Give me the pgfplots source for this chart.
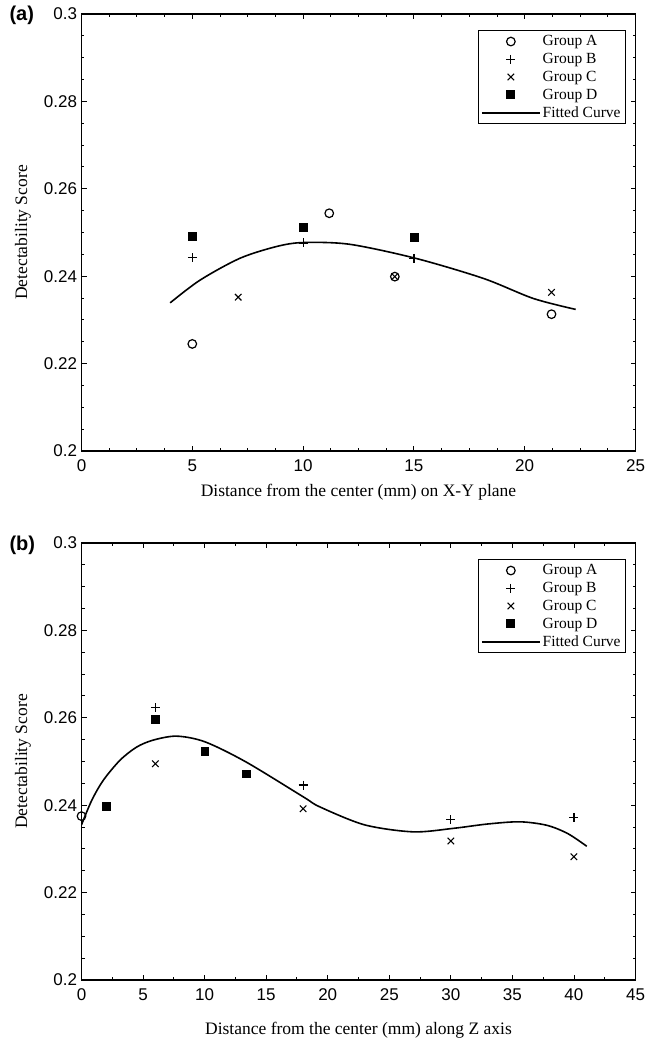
\documentclass[border=0pt]{standalone}
\usepackage{fontspec}
\setmainfont{Liberation Serif}
\newfontfamily\arial{Liberation Sans}
\usepackage{pgfplots}
\pgfplotsset{compat=1.18}

\pgfplotsset{
  panel/.style={
    scale only axis, width=554pt, height=437pt,
    xmin=0, ymin=0.2, ymax=0.3,
    ytick={0.2,0.22,0.24,0.26,0.28,0.3},
    yticklabels={0.2,0.22,0.24,0.26,0.28,0.3},
    minor y tick num=3,
    tick align=inside,
    major tick length=5pt, minor tick length=3pt,
    every tick/.style={black, line width=0.9pt},
    axis line style={line width=1.1pt},
    tick label style={font=\arial\fontsize{17}{19}\selectfont},
    xticklabel style={yshift=-5pt},
    yticklabel style={xshift=-1pt},
    /pgf/number format/assume math mode=true,
    label style={font=\fontsize{17.5}{20}\selectfont},
    xlabel style={yshift=-6pt},
    ylabel style={yshift=6pt},
    ylabel={Detectability Score},
    legend cell align=left,
    legend image code/.code={
      \draw[mark repeat=2, mark phase=2, #1]
        plot coordinates {(0pt,0pt) (29pt,0pt) (58pt,0pt)};},
    legend style={at={(0.983,0.963)}, anchor=north east,
      draw=black, line width=1pt, fill=white,
      font=\fontsize{15.5}{17}\selectfont,
      inner sep=3pt, row sep=2pt,
      /tikz/every even column/.append style={column sep=1pt}},
  },
  grpA/.style={only marks, mark=o, mark size=4.3pt, line width=1.2pt, black},
  grpB/.style={only marks, mark=+, mark size=4.5pt, line width=1.2pt, black},
  grpC/.style={only marks, mark=x, mark size=4.6pt, line width=1.1pt, black},
  grpD/.style={only marks, mark=square*, mark size=3.9pt, black},
  fitc/.style={black, line width=1.6pt, smooth, no marks},
}

\begin{document}
\begin{tikzpicture}
\path[use as bounding box] (0pt,0pt) rectangle (648pt,1038pt);

% (a) X-Y plane
\begin{axis}[panel, at={(81.5pt,587pt)}, anchor=south west,
    xmax=25, xtick={0,5,10,15,20,25}, minor x tick num=3,
    xlabel={Distance from the center (mm) on X-Y plane}]
  \addplot[grpA] coordinates {(5,0.2245) (11.18,0.2544) (14.14,0.2399) (21.21,0.2313)};
  \addlegendentry{Group A}
  \addplot[grpB] coordinates {(5,0.2442) (10,0.2476) (15,0.2441)};
  \addlegendentry{Group B}
  \addplot[grpC] coordinates {(7.07,0.2352) (14.14,0.2399) (21.21,0.2363)};
  \addlegendentry{Group C}
  \addplot[grpD] coordinates {(5,0.2492) (10,0.2513) (15,0.2489)};
  \addlegendentry{Group D}
  \addplot[fitc] coordinates {
    (4,0.2339) (5.35,0.2391) (7.15,0.2441) (8.81,0.2468) (10.01,0.2477)
    (12.1,0.2473) (15.07,0.2441) (18.13,0.2395) (20.39,0.2349) (22.3,0.2324)};
  \addlegendentry{Fitted Curve}
\end{axis}

% (b) Z axis
\begin{axis}[panel, at={(81.5pt,58pt)}, anchor=south west,
    xmax=45, xtick={0,5,...,45}, minor x tick num=1,
    xlabel style={yshift=-9pt},
    xlabel={Distance from the center (mm) along Z axis}]
  \addplot[grpA] coordinates {(0,0.2375)};
  \addlegendentry{Group A}
  \addplot[grpB] coordinates {(6,0.2623) (18,0.2446) (30,0.2367) (40,0.2372)};
  \addlegendentry{Group B}
  \addplot[grpC] coordinates {(6,0.2495) (18,0.2392) (30,0.2318) (40,0.2282)};
  \addlegendentry{Group C}
  \addplot[grpD] coordinates {(2,0.2397) (6,0.2597) (10,0.2523) (13.4,0.2472)};
  \addlegendentry{Group D}
  \addplot[fitc] coordinates {
    (0,0.2355) (0.83,0.2411) (1.77,0.2457) (3.13,0.2503) (4.48,0.2533)
    (5.83,0.2549) (7.73,0.2558) (10.03,0.2545) (13.36,0.2499) (18.02,0.2419)
    (19.37,0.2396) (23,0.2355) (26.95,0.2339) (30.2,0.2347) (33,0.2357)
    (35.6,0.2362) (37.8,0.2354) (39.5,0.2335) (41.04,0.2306)};
  \addlegendentry{Fitted Curve}
\end{axis}

\node[font=\arial\bfseries\fontsize{20}{22}\selectfont, anchor=west] at (6pt,1023pt) {(a)};
\node[font=\arial\bfseries\fontsize{20}{22}\selectfont, anchor=west] at (6pt,493pt) {(b)};
\end{tikzpicture}
\end{document}
